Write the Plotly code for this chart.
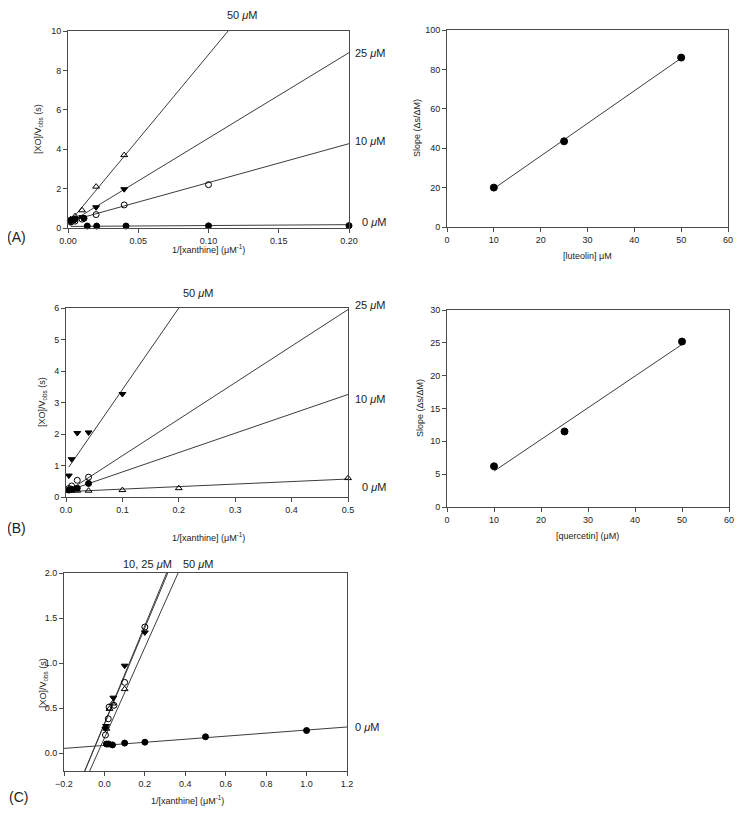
import numpy as np
import plotly.graph_objects as go

# page body has an 8px margin; the figure is sized so the page fits the window
OFF = 8
W, H = 743 - 2 * OFF, 824 - 2 * OFF

# ---------------- Panel A (luteolin) ----------------
A0_x = [0.002, 0.005, 0.0114, 0.0137, 0.0204, 0.0413, 0.1, 0.2]
A0_y = [0.40, 0.45, 0.49, 0.10, 0.10, 0.10, 0.11, 0.12]
A10_x = [0.002, 0.005, 0.01, 0.02, 0.04, 0.1]
A10_y = [0.30, 0.35, 0.45, 0.68, 1.17, 2.20]
A25_x = [0.002, 0.005, 0.01, 0.02, 0.04]
A25_y = [0.30, 0.40, 0.55, 1.05, 1.97]
A50_x = [0.002, 0.005, 0.01, 0.02, 0.04]
A50_y = [0.45, 0.60, 0.90, 2.10, 3.70]
A_fit_intercept = [0.08, 0.33, 0.22, 0.20]
A_fit_slope = [0.45, 19.75, 43.4, 86.0]

A_conc = [10, 25, 50]
A_slope_vals = [20.0, 43.5, 86.0]

# ---------------- Panel B (quercetin) ----------------
B0_x = [0.005, 0.01, 0.02, 0.04, 0.1, 0.2, 0.5]
B0_y = [0.20, 0.20, 0.20, 0.20, 0.22, 0.28, 0.60]
B10_x = [0.005, 0.01, 0.02, 0.04]
B10_y = [0.22, 0.25, 0.28, 0.43]
B25_x = [0.005, 0.01, 0.02, 0.04]
B25_y = [0.27, 0.35, 0.53, 0.63]
B50_x = [0.005, 0.01, 0.02, 0.04, 0.1]
B50_y = [0.68, 1.20, 2.03, 2.05, 3.27]
B_fit_start = [0.005, 0.02, 0.02, 0.005]
B_fit_intercept = [0.17, 0.18, 0.15, 0.82]
B_fit_slope = [0.80, 6.15, 11.6, 25.9]

B_conc = [10, 25, 50]
B_slope_vals = [6.2, 11.5, 25.2]

# ---------------- Panel C ----------------
C0_x = [0.01, 0.02, 0.04, 0.1, 0.2, 0.5, 1.0]
C0_y = [0.10, 0.10, 0.09, 0.11, 0.12, 0.18, 0.25]
Copen_x = [0.005, 0.019, 0.023, 0.047, 0.1, 0.2]
Copen_y = [0.20, 0.38, 0.51, 0.53, 0.785, 1.40]
Cdown_x = [0.005, 0.008, 0.044, 0.1, 0.2]
Cdown_y = [0.27, 0.30, 0.615, 0.97, 1.34]
Cup_x = [0.01, 0.025, 0.04, 0.1]
Cup_y = [0.27, 0.49, 0.55, 0.71]
C_fit_intercept = [0.085, 0.33, 0.32, 0.167]
C_fit_slope = [0.17, 5.43, 5.36, 5.03]

LINE = "#3c3c3c"
AX = "#4a4a4a"
FONT = "Arial, Liberation Sans, sans-serif"


def px(x):
    return (x - OFF) / W


def py(y):
    return 1 - (y - OFF) / H


fig = go.Figure()


def add_pts(x, y, sym, ax, size=6):
    fig.add_trace(go.Scatter(
        x=x, y=y, mode="markers", xaxis=ax[0], yaxis=ax[1],
        marker=dict(symbol=sym, size=size, color="black",
                    line=dict(color="black", width=1)),
        cliponaxis=False, showlegend=False, hoverinfo="skip"))


def add_line(x0, x1, a, b, ax):
    xs = np.array([x0, x1])
    fig.add_trace(go.Scatter(
        x=xs, y=a + b * xs, mode="lines", xaxis=ax[0], yaxis=ax[1],
        line=dict(color=LINE, width=1), showlegend=False, hoverinfo="skip"))


# Panel A left (x, y)
axA = ("x", "y")
for a, b in zip(A_fit_intercept, A_fit_slope):
    add_line(0.002, 0.2, a, b, axA)
add_pts(A50_x, A50_y, "triangle-up-open", axA)
add_pts(A25_x, A25_y, "triangle-down", axA)
add_pts(A10_x, A10_y, "circle-open", axA)
add_pts(A0_x, A0_y, "circle", axA)

# Panel A right (x2, y2)
axA2 = ("x2", "y2")
bA, aA = np.polyfit(A_conc, A_slope_vals, 1)
add_line(min(A_conc), max(A_conc), aA, bA, axA2)
add_pts(A_conc, A_slope_vals, "circle", axA2, 7)

# Panel B left (x3, y3)
axB = ("x3", "y3")
for s, a, b in zip(B_fit_start, B_fit_intercept, B_fit_slope):
    add_line(s, 0.5, a, b, axB)
add_pts(B0_x, B0_y, "triangle-up-open", axB)
add_pts(B10_x, B10_y, "circle", axB)
add_pts(B25_x, B25_y, "circle-open", axB)
add_pts(B50_x, B50_y, "triangle-down", axB)

# Panel B right (x4, y4)
axB2 = ("x4", "y4")
bB, aB = np.polyfit(B_conc, B_slope_vals, 1)
add_line(min(B_conc), max(B_conc), aB, bB, axB2)
add_pts(B_conc, B_slope_vals, "circle", axB2, 7)

# Panel C (x5, y5)
axC = ("x5", "y5")
add_line(-0.2, 1.2, C_fit_intercept[0], C_fit_slope[0], axC)
for a, b in zip(C_fit_intercept[1:], C_fit_slope[1:]):
    add_line(-0.2, 0.5, a, b, axC)
add_pts(C0_x, C0_y, "circle", axC)
add_pts(Cup_x, Cup_y, "triangle-up-open", axC)
add_pts(Cdown_x, Cdown_y, "triangle-down", axC)
add_pts(Copen_x, Copen_y, "circle-open", axC)


def axis(domain, rng, dtick, fmt, anchor, tick0=None):
    d = dict(domain=domain, range=rng, dtick=dtick, tickformat=fmt,
             anchor=anchor, showline=True, mirror=True, linecolor=AX,
             linewidth=1, ticks="outside", ticklen=4, tickcolor=AX,
             showgrid=False, zeroline=False, automargin=False,
             tickfont=dict(size=9, color="#222", family=FONT))
    if tick0 is not None:
        d["tick0"] = tick0
    return d


layout = dict(
    width=W, height=H, margin=dict(l=0, r=0, t=0, b=0),
    paper_bgcolor="white", plot_bgcolor="white", showlegend=False,
    font=dict(family=FONT, color="#222"),
    xaxis=axis([px(68), px(349)], [0, 0.2], 0.05, ".2f", "y"),
    yaxis=axis([py(228), py(31)], [0, 10], 2, "d", "x"),
    xaxis2=axis([px(447), px(728)], [0, 60], 10, "d", "y2"),
    yaxis2=axis([py(227), py(30)], [0, 100], 20, "d", "x2"),
    xaxis3=axis([px(66), px(348)], [0, 0.5], 0.1, ".1f", "y3"),
    yaxis3=axis([py(497), py(308)], [0, 6], 1, "d", "x3"),
    xaxis4=axis([px(447), px(729)], [0, 60], 10, "d", "y4"),
    yaxis4=axis([py(507), py(310)], [0, 30], 5, "d", "x4"),
    xaxis5=axis([px(64), px(347)], [-0.2, 1.2], 0.2, ".1f", "y5", -0.2),
    yaxis5=axis([py(771), py(573)], [-0.2, 2.0], 0.5, ".1f", "x5", 0),
)
fig.update_layout(**layout)

ann = []


def text(x, y, t, size=10, xanchor="center", angle=0):
    ann.append(dict(x=px(x), y=py(y), xref="paper", yref="paper", text=t,
                    showarrow=False, xanchor=xanchor, yanchor="middle",
                    textangle=angle, font=dict(size=size, family=FONT, color="#222")))


xt = "1/[xanthine] (\u03bcM<sup>-1</sup>)"
yt = "[XO]/V<sub>obs</sub> (s)"
st = "Slope (\u0394s/\u0394M)"
mu = "<i>\u03bc</i>M"

# A
text(242, 15, "50 " + mu, 11)
text(353, 53, "25 " + mu, 11, "left")
text(353, 141, "10 " + mu, 11, "left")
text(360, 222, "0 " + mu, 11, "left")
text(5, 237, "(A)", 14, "left")
text(208, 249, xt, 9)
text(38, 129, yt, 9, angle=-90)
text(587, 256, "[luteolin] \u03bcM", 9)
text(417, 128, st, 9, angle=-90)

# B
text(198, 293, "50 " + mu, 11)
text(353, 305, "25 " + mu, 11, "left")
text(353, 399, "10 " + mu, 11, "left")
text(360, 487, "0 " + mu, 11, "left")
text(5, 528, "(B)", 14, "left")
text(208, 537, xt, 9)
text(42, 402, yt, 9, angle=-90)
text(587, 536, "[quercetin] (\u03bcM)", 9)
text(420, 408, st, 9, angle=-90)

# C
text(147, 564, "10, 25 " + mu, 11)
text(198, 564, "50 " + mu, 11)
text(353, 727, "0 " + mu, 11, "left")
text(7, 797, "(C)", 14, "left")
text(187, 800, xt, 9)
text(43, 683, yt, 9, angle=-90)

fig.update_layout(annotations=ann)
fig.write_html("out.html")
